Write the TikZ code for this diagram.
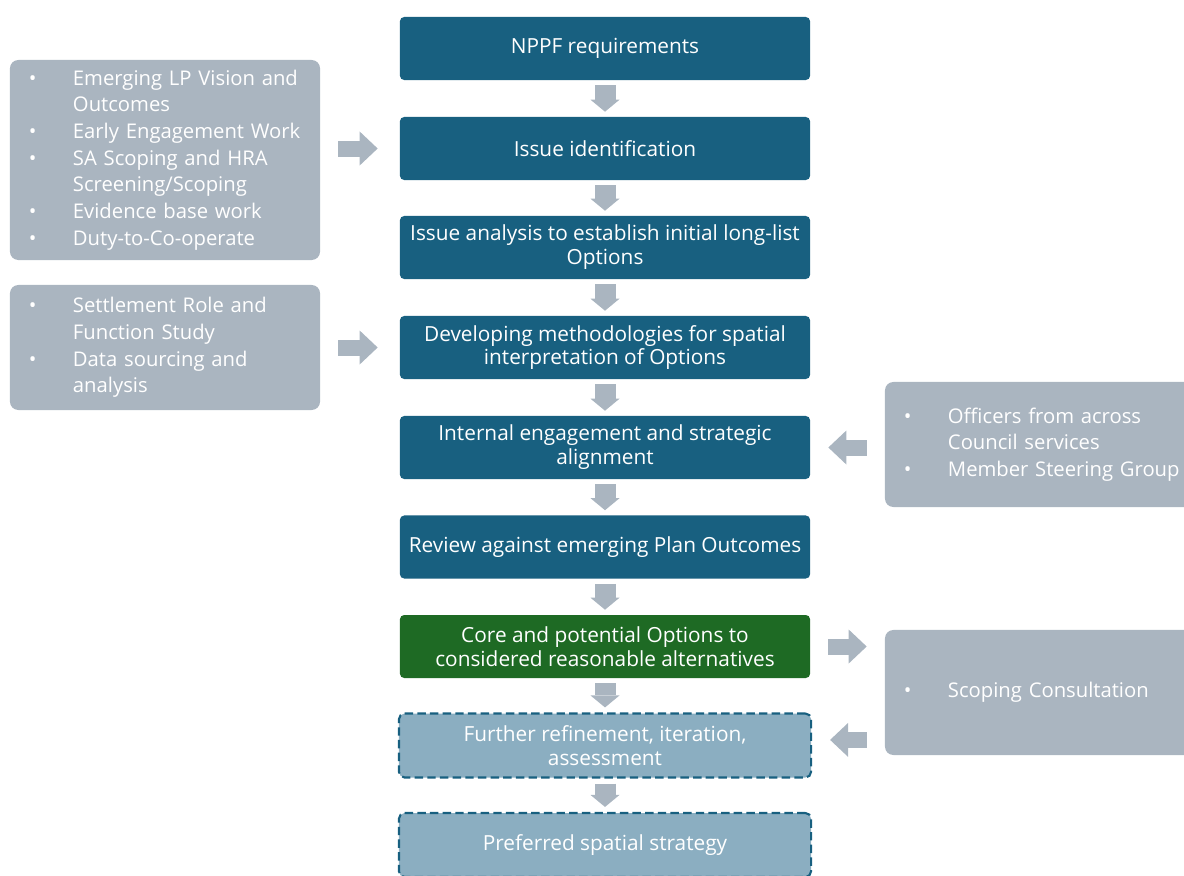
\documentclass[tikz,border=0pt]{standalone}
\usepackage{fontspec}
\setmainfont{Open Sans}
\usetikzlibrary{arrows.meta,positioning,calc}
\definecolor{deepblue}{RGB}{24,96,128}
\definecolor{okgreen}{RGB}{30,106,36}
\definecolor{slate}{RGB}{170,181,192}
\definecolor{paleblue}{RGB}{139,174,193}
\tikzset{
  stage/.style={rounded corners=3pt,fill=#1,text=white,align=center,
    minimum width=10.25cm,minimum height=1.575cm,inner sep=1pt},
  stage/.default=deepblue,
  later/.style={rounded corners=4pt,fill=paleblue,draw=deepblue,line width=1.5pt,
    dash pattern=on 6pt off 3pt,text=white,align=center,
    minimum width=10.3cm,minimum height=1.6cm,inner sep=1pt},
  note/.style={rounded corners=6pt,fill=slate,text=white,align=left,
    text width=6.8cm,inner xsep=0.475cm,inner ysep=0pt,minimum height=#1,
    font=\fontsize{14.4}{19}\selectfont},
  note/.default=3.125cm,
  downarr/.style={-{Triangle[length=0.3cm,width=0.725cm,line width=0pt]},
    line width=0.525cm,draw=slate,shorten <=0.125cm,shorten >=0.125cm},
  sidearr/.style={-{Triangle[length=0.45cm,width=0.85cm,line width=0pt]},
    line width=0.4cm,draw=slate,shorten <=0.45cm,shorten >=#1},
  sidearr/.default=0.45cm,
}
\newcommand{\itm}{\makebox[1.1cm][l]{\textbullet}}
\newcommand{\cnt}{\hspace*{1.1cm}}

\begin{document}
\begin{tikzpicture}[x=0.025cm,y=-0.025cm,font=\fontsize{14.8}{17}\selectfont]
  \useasboundingbox (0,0) rectangle (1184,875);

  \node[stage] (nppf)   at (605,48.5)  {NPPF requirements};
  \node[stage] (ident)  at (605,148.5) {Issue identification};
  \node[stage] (anal)   at (605,247.5) {Issue analysis to establish initial long-list\\Options};
  \node[stage] (meth)   at (605,347.5) {Developing methodologies for spatial\\interpretation of Options};
  \node[stage] (intl)   at (605,447.5) {Internal engagement and strategic\\alignment};
  \node[stage] (review) at (605,547)   {Review against emerging Plan Outcomes};
  \node[stage=okgreen] (core) at (605,646.5) {Core and potential Options to\\considered reasonable alternatives};
  \node[later] (refine) at (605,745.5) {Further refinement, iteration,\\assessment};
  \node[later] (pref)   at (605,845)   {Preferred spatial strategy};

  \node[note=5cm] (inpA) at (165,160)
    {\itm Emerging LP Vision and\\\cnt Outcomes\\\itm Early Engagement Work\\
     \itm SA Scoping and HRA\\\cnt Screening/Scoping\\\itm Evidence base work\\
     \itm Duty-to-Co-operate};
  \node[note] (inpB) at (165,347.5)
    {\itm Settlement Role and\\\cnt Function Study\\\itm Data sourcing and\\\cnt analysis};
  \node[note,text width=7.2cm] (engage) at (1048,444.5)
    {\itm Officers from across\\\cnt Council services\\\itm Member Steering Group};
  \node[note,text width=7.2cm] (consult) at (1048,692.5) {\itm Scoping Consultation};

  \foreach \a/\b in {nppf/ident,ident/anal,anal/meth,meth/intl,intl/review,
    review/core,core/refine,refine/pref}
    \draw[downarr] (\a) -- (\b);

  \draw[sidearr=0.55cm] (inpA.east |- ident) -- (ident.west);
  \draw[sidearr=0.55cm] (inpB.east |- meth) -- (meth.west);
  \draw[sidearr] (engage.west |- intl) -- (intl.east);
  \draw[sidearr] (core.east) -- (consult.west |- core);
  \draw[sidearr] ([yshift=0.14cm]consult.west |- refine) -- ([yshift=0.14cm]refine.east);
\end{tikzpicture}
\end{document}
